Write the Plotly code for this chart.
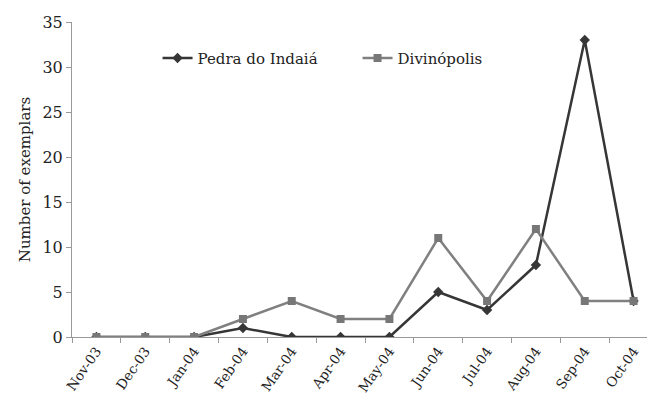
import plotly.graph_objects as go

months = ["Nov-03", "Dec-03", "Jan-04", "Feb-04", "Mar-04", "Apr-04", "May-04",
          "Jun-04", "Jul-04", "Aug-04", "Sep-04", "Oct-04"]
pedra = [0, 0, 0, 1, 0, 0, 0, 5, 3, 8, 33, 4]
divinopolis = [0, 0, 0, 2, 4, 2, 2, 11, 4, 12, 4, 4]

SERIF = "DejaVu Serif"

fig = go.Figure()
fig.add_trace(go.Scatter(x=months, y=pedra, name="Pedra do Indaiá", mode="lines+markers",
                         line=dict(color="#363636", width=2.5),
                         marker=dict(symbol="diamond", size=8, color="#363636")))
fig.add_trace(go.Scatter(x=months, y=divinopolis, name="Divinópolis", mode="lines+markers",
                         line=dict(color="#808080", width=2.5),
                         marker=dict(symbol="square", size=8, color="#777777")))

fig.update_layout(
    width=655, height=408,
    margin=dict(l=64, r=5, t=12, b=79),
    plot_bgcolor="white", paper_bgcolor="white",
    font=dict(family=SERIF, size=13, color="#222"),
    showlegend=True,
    legend=dict(orientation="h", x=0.146, y=0.885, xanchor="left", yanchor="middle",
                entrywidth=155, font=dict(family=SERIF, size=15), bgcolor="rgba(0,0,0,0)"),
    xaxis=dict(type="category", range=[-0.5, 11.5], tickson="boundaries",
               ticks="outside", ticklen=5, tickcolor="#999", showline=True,
               linecolor="#999", linewidth=1, showgrid=False, tickangle=-55,
               tickfont=dict(family=SERIF, size=13.5)),
    yaxis=dict(range=[0, 35], dtick=5, ticks="outside", ticklen=5, tickcolor="#999",
               showline=True, linecolor="#999", linewidth=1, showgrid=False, zeroline=False,
               title=dict(text="Number of exemplars", font=dict(family=SERIF, size=15), standoff=8),
               tickfont=dict(family=SERIF, size=16)),
)
fig.write_html("out.html")
